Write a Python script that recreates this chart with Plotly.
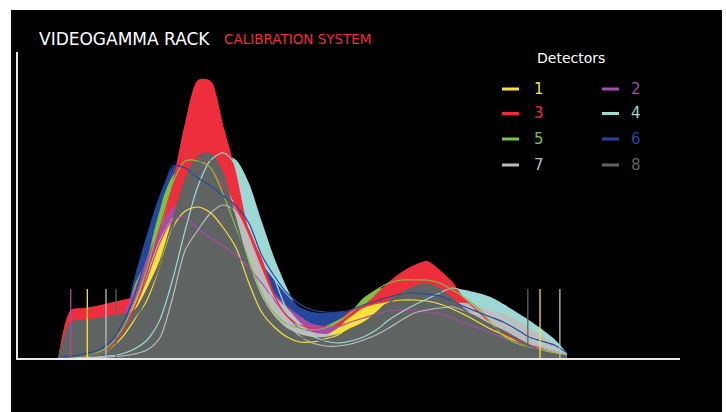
import plotly.graph_objects as go

# Energy channels (shared by every detector)
CHANNELS = [i * 2.5 for i in range(41)]

# Measured spectra (counts per channel), one list per detector
COUNTS_1 = [0, 0, 1, 2, 8, 30, 55, 85, 118, 140, 148, 150, 142, 125, 100, 75, 55, 40, 30, 24, 22, 23, 30, 42, 50, 54, 56, 57, 57, 56, 52, 47, 41, 35, 29, 23, 18, 13, 8, 4, 1]
COUNTS_2 = [0, 0, 1, 3, 10, 40, 68, 100, 130, 150, 158, 155, 145, 130, 112, 95, 80, 65, 52, 42, 34, 32, 32, 36, 40, 44, 47, 48, 48, 47, 45, 42, 38, 34, 30, 26, 21, 16, 11, 6, 2]
COUNTS_3 = [0, 48, 50, 52, 55, 58, 62, 95, 125, 175, 236, 278, 277, 232, 185, 128, 100, 65, 40, 28, 25, 26, 36, 48, 52, 64, 76, 86, 93, 97, 88, 76, 58, 45, 36, 30, 22, 15, 9, 5, 2]
COUNTS_4 = [0, 0, 0, 1, 2, 4, 10, 30, 60, 100, 140, 175, 195, 203, 198, 175, 137, 100, 70, 45, 32, 28, 27, 30, 35, 42, 52, 60, 65, 68, 70, 70, 68, 65, 61, 54, 46, 38, 29, 19, 5]
COUNTS_5 = [0, 0, 1, 3, 8, 25, 72, 100, 150, 182, 195, 192, 178, 155, 125, 95, 70, 52, 40, 32, 30, 32, 38, 46, 60, 68, 72, 74, 75, 74, 70, 62, 52, 43, 34, 27, 21, 15, 10, 5, 2]
COUNTS_6 = [0, 0, 1, 3, 10, 30, 80, 124, 163, 190, 199, 195, 180, 160, 140, 118, 95, 78, 63, 51, 46, 45, 46, 47, 54, 58, 62, 63, 64, 64, 62, 58, 52, 46, 41, 36, 30, 23, 16, 9, 3]
COUNTS_7 = [0, 0, 0, 1, 3, 8, 15, 35, 70, 110, 150, 170, 180, 175, 150, 122, 90, 62, 50, 36, 26, 24, 24, 28, 33, 40, 47, 52, 55, 57, 55, 55, 55, 52, 48, 44, 38, 30, 22, 14, 4]
COUNTS_8 = [0, 36, 38, 40, 42, 44, 48, 70, 98, 140, 180, 203, 205, 185, 140, 95, 62, 42, 30, 24, 21, 21, 24, 30, 36, 46, 58, 66, 72, 75, 70, 60, 49, 41, 34, 28, 21, 14, 9, 5, 2]

# Fitted response curves, one list per detector
FIT_1 = [0, 0.5, 1, 4, 8, 20, 38, 58, 92, 130, 147, 151, 145, 130, 110, 75, 46, 31, 21, 16, 16, 19, 23, 32, 42, 50, 56, 58, 58, 57, 54, 49, 43, 36, 29, 23, 17, 12, 8, 5, 3]
FIT_2 = [0, 0.5, 2, 4, 12, 28, 50, 80, 115, 138, 141, 129, 120, 112, 103, 90, 75, 58, 42, 30, 27, 28, 31, 36, 40, 44, 47, 48, 48, 46, 44, 40, 35, 30, 25, 20, 16, 13, 10, 7, 4]
FIT_3 = [0, 1, 2, 4, 10, 25, 50, 85, 130, 170, 195, 200, 190, 170, 148, 128, 95, 62, 42, 33, 30, 31, 35, 42, 52, 62, 70, 75, 76, 75, 72, 66, 58, 47, 35, 25, 18, 12, 8, 5, 2]
FIT_4 = [0, 0, 0.5, 1, 2, 4, 9, 18, 38, 78, 128, 172, 198, 205, 192, 160, 120, 80, 48, 32, 22, 17, 15, 17, 21, 28, 38, 46, 53, 59, 65, 70, 66, 58, 48, 39, 30, 21, 14, 9, 5]
FIT_5 = [0, 1, 2, 5, 12, 28, 55, 90, 135, 175, 197, 197, 190, 163, 130, 98, 65, 45, 34, 30, 28, 30, 36, 45, 57, 68, 75, 78, 78, 78, 75, 68, 60, 50, 36, 22, 15, 11, 8, 5, 3]
FIT_6 = [1, 2, 4, 7, 15, 33, 62, 105, 150, 192, 190, 180, 172, 162, 152, 135, 103, 82, 65, 54, 48, 46, 46, 48, 53, 57, 61, 64, 65, 64, 62, 57, 51, 46, 41, 36, 29, 21, 17, 13, 5]
FIT_7 = [0, 0, 0, 0.5, 1, 2, 4, 8, 20, 60, 108, 128, 145, 153, 146, 120, 85, 55, 35, 22, 15, 12, 12, 14, 18, 23, 30, 38, 45, 48, 50, 51, 47, 42, 35, 29, 23, 17, 11, 7, 4]
FIT_8 = [0, 1, 2, 4, 8, 18, 35, 62, 92, 130, 170, 195, 198, 175, 135, 92, 58, 38, 27, 21, 18, 18, 21, 27, 34, 45, 55, 63, 68, 70, 66, 58, 47, 39, 32, 26, 19, 12, 7, 4, 2]

# Window markers: channel, height and detector each one belongs to
MARKER_CHANNELS = [2.5, 5.76, 9.43, 11.4, 92.3, 94.7, 98.6]
MARKER_DETECTORS = [2, 1, 7, 8, 8, 1, 7]
MARKER_HEIGHT = 69

DETECTORS = [1, 2, 3, 4, 5, 6, 7, 8]
COLORS = {
    1: "#f7e23b", 2: "#a94ba8", 3: "#ee2e3c", 4: "#9ed8d5",
    5: "#7cc143", 6: "#24479c", 7: "#bdbdbd", 8: "#5f6462",
}
COUNTS = {1: COUNTS_1, 2: COUNTS_2, 3: COUNTS_3, 4: COUNTS_4,
          5: COUNTS_5, 6: COUNTS_6, 7: COUNTS_7, 8: COUNTS_8}
FITS = {1: FIT_1, 2: FIT_2, 3: FIT_3, 4: FIT_4,
        5: FIT_5, 6: FIT_6, 7: FIT_7, 8: FIT_8}

# painting order of the filled spectra (back to front)
FILL_ORDER = [4, 6, 5, 3, 2, 1, 7, 8]

W, H = 726, 412
L, R, T, B = 18, 46, 52, 54
PW, PH = W - L - R, H - T - B


def px(x):
    return (x - L) / PW


def py(y):
    return (H - B - y) / PH


fig = go.Figure()

for d in FILL_ORDER:
    fig.add_trace(go.Scatter(
        x=CHANNELS, y=COUNTS[d], mode="lines", fill="tozeroy",
        fillcolor=COLORS[d], line=dict(width=0, color=COLORS[d], shape="spline", smoothing=0.8),
        hoverinfo="skip", showlegend=False,
    ))

for d in DETECTORS:
    fig.add_trace(go.Scatter(
        x=CHANNELS, y=FITS[d], mode="lines",
        line=dict(width=1.2, color=COLORS[d], shape="spline", smoothing=0.8),
        hoverinfo="skip", showlegend=False,
    ))

for ch, d in zip(MARKER_CHANNELS, MARKER_DETECTORS):
    fig.add_trace(go.Scatter(
        x=[ch, ch], y=[0, MARKER_HEIGHT], mode="lines",
        line=dict(width=1.3, color=COLORS[d]),
        hoverinfo="skip", showlegend=False,
    ))

shapes = [dict(type="rect", xref="paper", yref="paper", layer="below",
               x0=px(11), x1=px(722), y0=py(414), y1=py(10),
               fillcolor="black", line=dict(width=0))]

annotations = [
    dict(text="VIDEOGAMMA RACK", x=px(37), y=py(39), xref="paper", yref="paper",
         xanchor="left", yanchor="middle", showarrow=False,
         font=dict(family="DejaVu Sans", size=17, color="white")),
    dict(text="CALIBRATION SYSTEM", x=px(222), y=py(39.5), xref="paper", yref="paper",
         xanchor="left", yanchor="middle", showarrow=False,
         font=dict(family="DejaVu Sans", size=13.5, color="#ee2e3c")),
    dict(text="Detectors", x=px(571), y=py(58), xref="paper", yref="paper",
         xanchor="center", yanchor="middle", showarrow=False,
         font=dict(family="DejaVu Sans", size=14, color="white")),
]

# two-column key: 1/2, 3/4, 5/6, 7/8
row_y = [89, 113.5, 139, 165]
col_x = [(502, 519, 532), (602, 619, 629)]
for i, d in enumerate(DETECTORS):
    r, c = divmod(i, 2)
    x0, x1, tx = col_x[c]
    shapes.append(dict(type="line", xref="paper", yref="paper",
                       x0=px(x0), x1=px(x1), y0=py(row_y[r]), y1=py(row_y[r]),
                       line=dict(color=COLORS[d], width=3)))
    annotations.append(dict(text=str(d), x=px(tx), y=py(row_y[r]), xref="paper", yref="paper",
                            xanchor="left", yanchor="middle", showarrow=False,
                            font=dict(family="DejaVu Sans", size=15, color=COLORS[d])))

fig.update_layout(
    width=W, height=H,
    margin=dict(l=L, r=R, t=T, b=B, pad=0),
    paper_bgcolor="white", plot_bgcolor="rgba(0,0,0,0)",
    shapes=shapes, annotations=annotations,
    xaxis=dict(range=[-40 / 5.09, 100 + 113 / 5.09], showgrid=False, zeroline=False,
               showticklabels=False, ticks="", showline=True, linecolor="#e8e8e8", linewidth=2,
               fixedrange=True),
    yaxis=dict(range=[0, PH], showgrid=False, zeroline=False,
               showticklabels=False, ticks="", showline=True, linecolor="#e8e8e8", linewidth=2,
               fixedrange=True),
)

fig.write_html("out.html", config={"displayModeBar": False})
